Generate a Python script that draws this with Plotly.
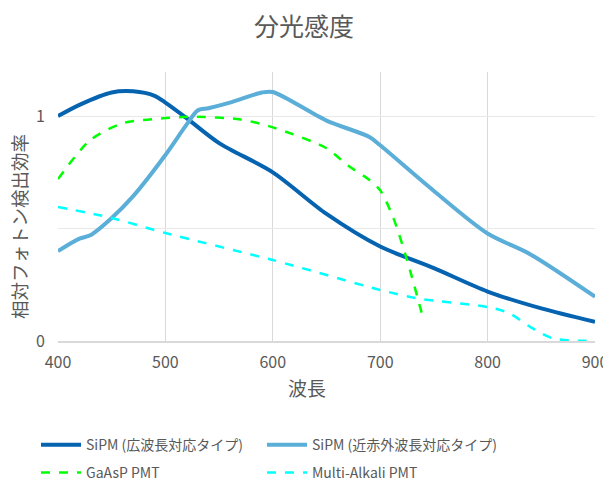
import plotly.graph_objects as go

wl_wide = [400, 420, 450, 470, 490, 500, 520, 550, 600, 650, 700, 750, 800, 850, 900]
sipm_wide = [1.0, 1.05, 1.105, 1.11, 1.09, 1.06, 0.99, 0.88, 0.75, 0.565, 0.42, 0.324, 0.22, 0.145, 0.085]

wl_nir = [400, 420, 430, 450, 470, 500, 520, 530, 540, 560, 590, 600, 650, 690, 700, 750, 800, 840, 900]
sipm_nir = [0.40, 0.455, 0.47, 0.547, 0.644, 0.827, 0.964, 1.025, 1.035, 1.06, 1.105, 1.107, 0.98, 0.907, 0.87, 0.667, 0.478, 0.385, 0.197]

wl_gaasp = [400, 430, 460, 498, 525, 570, 600, 650, 670, 690, 700, 712, 725, 740]
gaasp = [0.72, 0.893, 0.968, 0.99, 0.997, 0.985, 0.95, 0.857, 0.78, 0.716, 0.67, 0.55, 0.36, 0.10]

wl_ma = [400, 450, 500, 600, 700, 734, 800, 820, 840, 860, 900]
multi_alkali = [0.596, 0.547, 0.48, 0.36, 0.227, 0.19, 0.151, 0.124, 0.062, 0.013, 0.0]

x_ticks = [400, 500, 600, 700, 800, 900]
y_tickvals = [0, 0.5, 1]
y_ticktext = ["0", "", "1"]

FONT = "Noto Sans CJK JP"
GRAY = "#595959"

fig = go.Figure()
fig.add_trace(go.Scatter(x=wl_wide, y=sipm_wide, mode="lines", name="SiPM (広波長対応タイプ)",
                         legend="legend",
                         line=dict(color="#0563B0", width=4, shape="spline", smoothing=0.8)))
fig.add_trace(go.Scatter(x=wl_nir, y=sipm_nir, mode="lines", name="SiPM (近赤外波長対応タイプ)",
                         legend="legend2",
                         line=dict(color="#5AAED8", width=4, shape="spline", smoothing=0.8)))
fig.add_trace(go.Scatter(x=wl_gaasp, y=gaasp, mode="lines", name="GaAsP PMT",
                         legend="legend3",
                         line=dict(color="#00FF00", width=2.5, dash="dash", shape="spline", smoothing=0.8)))
fig.add_trace(go.Scatter(x=wl_ma, y=multi_alkali, mode="lines", name="Multi-Alkali PMT",
                         legend="legend4",
                         line=dict(color="#00FFFF", width=2.5, dash="dash", shape="spline", smoothing=0.8)))

W = 611
leg_common = dict(orientation="h", xanchor="left", yanchor="middle", xref="container", yref="container",
                  itemwidth=40, font=dict(size=14, color=GRAY, family=FONT),
                  bgcolor="rgba(0,0,0,0)")

col1, col2 = 28 / W, 254 / W
row1, row2 = 0.076, 0.017

fig.update_layout(
    width=W, height=473,
    margin=dict(l=50, r=24, t=64, b=140),
    paper_bgcolor="white", plot_bgcolor="white",
    font=dict(family=FONT, color=GRAY, size=16),
    title=dict(text="分光感度", x=296 / W, xanchor="center", y=0.960, yanchor="middle",
               font=dict(size=25, color=GRAY, family=FONT)),
    xaxis=dict(range=[400, 900], tickvals=x_ticks, showgrid=True, gridcolor="#D9D9D9", gridwidth=1,
               zeroline=False, showline=True, linecolor="#D9D9D9", linewidth=1.5,
               automargin=False, ticks="", ticklabelstandoff=6, ticklabeloverflow="allow",
               tickfont=dict(size=16, color=GRAY)),
    yaxis=dict(range=[0, 1.196], tickvals=y_tickvals, ticktext=y_ticktext, showgrid=True,
               gridcolor="#E8E8E8", gridwidth=1, zeroline=False, showline=False,
               automargin=False, ticks="", ticklabelstandoff=12,
               tickfont=dict(size=16, color=GRAY)),
    legend=dict(x=col1, y=row1, **leg_common),
    legend2=dict(x=col2, y=row1, **leg_common),
    legend3=dict(x=col1, y=row2, **leg_common),
    legend4=dict(x=col2, y=row2, **leg_common),
    showlegend=True,
    annotations=[
        dict(text="波長", xref="paper", yref="paper", x=0.4637, y=-0.1747,
             xanchor="center", yanchor="middle", showarrow=False,
             font=dict(size=19, color=GRAY, family=FONT)),
        dict(text="相対フォトン検出効率", xref="paper", yref="paper", x=-0.0727, y=0.4275,
             xanchor="center", yanchor="middle", textangle=-90, showarrow=False,
             font=dict(size=18.5, color=GRAY, family=FONT)),
    ],
)

fig.write_html("out.html")
